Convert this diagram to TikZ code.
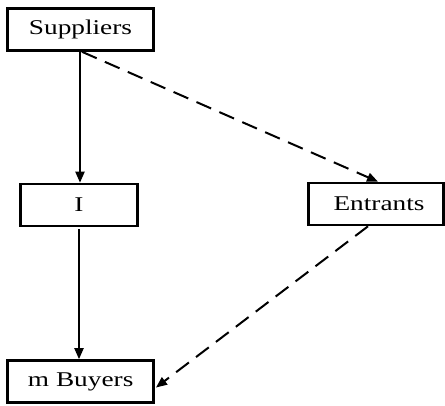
\documentclass[tikz,border=0pt]{standalone}
\usepackage{fontspec}
\setmainfont[FakeStretch=1.3]{Liberation Serif}
\usetikzlibrary{arrows.meta,calc}
\begin{document}
\begin{tikzpicture}[x=1pt,y=1pt,
  box/.style={draw,line width=2.6pt,minimum height=42pt,inner sep=0pt,font=\fontsize{21}{24}\selectfont},
  solidarrow/.style={line width=2pt,-{Triangle[length=11pt,width=9pt]}},
  dasharrow/.style={line width=2pt,dash pattern=on 16pt off 9pt,-{Triangle[length=11pt,width=9pt]}}]
\useasboundingbox (0,0) rectangle (445,405);
\node[box,minimum width=146pt] (sup) at (80.5,375.5) {Suppliers};
\node[box,minimum width=117pt] (inc) at (79,200) {I};
\node[box,minimum width=135pt] (ent) at (376,201) {\hspace*{6pt}Entrants};
\node[box,minimum width=146pt] (buy) at (80.7,23.5) {m Buyers};
\coordinate (s1) at ($(sup.south)+(-0.5,0)$);
\coordinate (s2) at ($(sup.south)+(1.5,0)$);
\coordinate (e1) at ($(ent.north)+(2,0)$);
\coordinate (e2) at ($(ent.south)+(-8,0)$);
\coordinate (b1) at ($(buy.east)+(1,-6)$);
\coordinate (i1) at ($(inc.south)+(0,-2)$);
\draw[solidarrow] (s1) -- (s1 |- inc.north);
\draw[solidarrow] (i1) -- (i1 |- buy.north);
\draw[dasharrow] (s2) -- (e1);
\draw[dasharrow] (e2) -- (b1);
\end{tikzpicture}
\end{document}
